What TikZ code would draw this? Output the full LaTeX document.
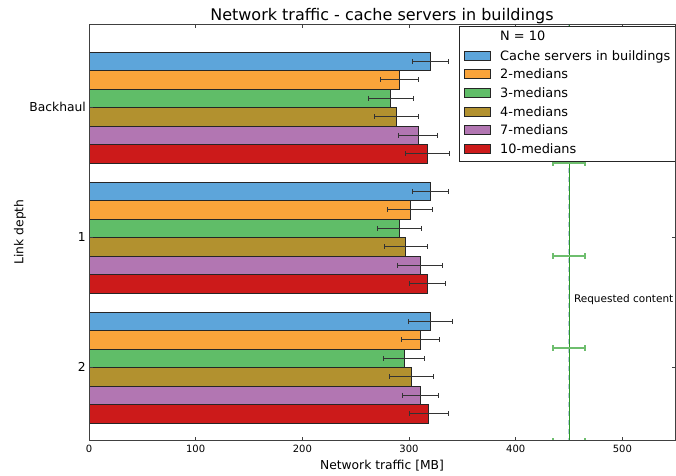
\documentclass[tikz,border=0pt]{standalone}
\usepackage{fontspec}
\setmainfont{DejaVu Sans}

\definecolor{cblue}{RGB}{93,165,218}
\definecolor{corange}{RGB}{250,164,58}
\definecolor{cgreen}{RGB}{96,189,104}
\definecolor{colive}{RGB}{178,145,47}
\definecolor{cpurple}{RGB}{178,118,178}
\definecolor{cred}{RGB}{204,26,26}
\definecolor{reqline}{RGB}{40,150,40}
\definecolor{reqerr}{RGB}{110,190,110}
\definecolor{reqdash}{RGB}{100,140,180}

\tikzset{
  barbox/.style={draw=black!85, line width=0.9pt},
  errbar/.style={draw=black!80, line width=0.9pt},
  axisframe/.style={draw=black!75, line width=0.9pt},
  ticktext/.style={inner sep=0pt, font=\fontsize{10}{12}\selectfont},
  ylabtext/.style={inner sep=0pt, font=\fontsize{12.3}{14}\selectfont},
  legtext/.style={inner sep=0pt, anchor=base west, font=\fontsize{12.9}{15}\selectfont},
  legpatch/.style={draw=black!85, line width=0.8pt},
}

% one group of six horizontal bars with error bars; #1 = top edge (px)
\newcommand\bargroup[2]{%
  \foreach \v/\e/\c [count=\k from 0] in {#2} {
    \pgfmathsetmacro\yt{#1+18.5*\k}
    \pgfmathsetmacro\yb{\yt+18.5}
    \pgfmathsetmacro\ym{\yt+9.25}
    \filldraw[barbox, fill=\c] (0,\yt) rectangle (\v,\yb);
    \draw[errbar] (\v-\e,\ym) -- (\v+\e,\ym);
    \draw[errbar] (\v-\e,\ym-2.5) -- (\v-\e,\ym+2.5);
    \draw[errbar] (\v+\e,\ym-2.5) -- (\v+\e,\ym+2.5);
  }%
}

\begin{document}
\begin{tikzpicture}[x=1pt, y=-1pt]
\useasboundingbox (0,0) rectangle (676,475);

% data area: x in MB, 0..550
\begin{scope}[shift={(89,0)}, x=1.0667pt]
  \bargroup{52}{320/17/cblue, 291/18/corange, 283/21/cgreen, 288/20.5/colive, 308.5/18.5/cpurple, 317/20.5/cred}
  \bargroup{182}{320/17/cblue, 301/21/corange, 291/21/cgreen, 297/20/colive, 310.5/21/cpurple, 317/17/cred}
  \bargroup{312}{320/21/cblue, 310.5/18/corange, 295.5/19/cgreen, 302/20.5/colive, 310.5/17/cpurple, 318.5/18.5/cred}

  % requested content reference line with its spread
  \begin{scope}
    \clip (0,24) rectangle (550,440);
    \draw[reqline, line width=0.8pt] (450,24) -- (450,440);
    \draw[reqdash, line width=0.8pt, dash pattern=on 5pt off 4pt, opacity=0.45] ([xshift=-0.7pt]450,24) -- ([xshift=-0.7pt]450,440);
    \foreach \yy in {70,163,256,348,441} {
      \draw[reqerr, line width=1.1pt] (435,\yy) -- (465,\yy);
      \draw[reqerr, line width=1.1pt] (435,\yy-3) -- (435,\yy+3);
      \draw[reqerr, line width=1.1pt] (465,\yy-3) -- (465,\yy+3);
    }
  \end{scope}
  \node[inner sep=0pt, anchor=base west, font=\fontsize{10.5}{12}\selectfont] (req) at (454.5,302) {Requested content};

  % ticks and tick labels on the value axis
  \foreach \t in {100,200,...,500} {
    \draw[axisframe] (\t,440) -- (\t,436.5);
    \draw[axisframe] (\t,24) -- (\t,27.5);
  }
  \foreach \t in {0,100,...,500} {
    \node[ticktext, anchor=base] (xt\t) at (\t,452.5) {\t};
  }
\end{scope}

% category ticks
\foreach \yy in {107,237,367} {
  \draw[axisframe] (89,\yy) -- (92.5,\yy);
  \draw[axisframe] (675,\yy) -- (671.5,\yy);
}
\node[ylabtext, anchor=base east] (ybh) at (86,111.7) {Backhaul};
\node[ylabtext, anchor=base east] (y1) at (86,241) {1};
\node[ylabtext, anchor=base east] (y2) at (86,371) {2};

% legend
\filldraw[fill=white, draw=black!85, line width=0.9pt] (459,26) rectangle (675,161);
\node[legtext] (legN) at (500,40.7) {N = 10};
\foreach \c/\lab [count=\k from 0] in {cblue/Cache servers in buildings, corange/2-medians, cgreen/3-medians, colive/4-medians, cpurple/7-medians, cred/10-medians} {
  \pgfmathsetmacro\yc{55.5+18.65*\k}
  \filldraw[legpatch, fill=\c] (464,\yc-4.5) rectangle (490,\yc+4.5);
  \node[legtext] (leg\k) at (500,\yc+4.6) {\lab};
}

% frame
\draw[axisframe] (89,24) rectangle (675,440);

% titles
\node[inner sep=0pt, anchor=base, font=\fontsize{16}{19}\selectfont] (title) at (382,20) {Network traffic - cache servers in buildings};
\node[ylabtext, anchor=base] (xlab) at (382,469) {Network traffic [MB]};
\node[ylabtext, anchor=base, rotate=90] (ylab) at (23.3,232) {Link depth};
\end{tikzpicture}
\end{document}
